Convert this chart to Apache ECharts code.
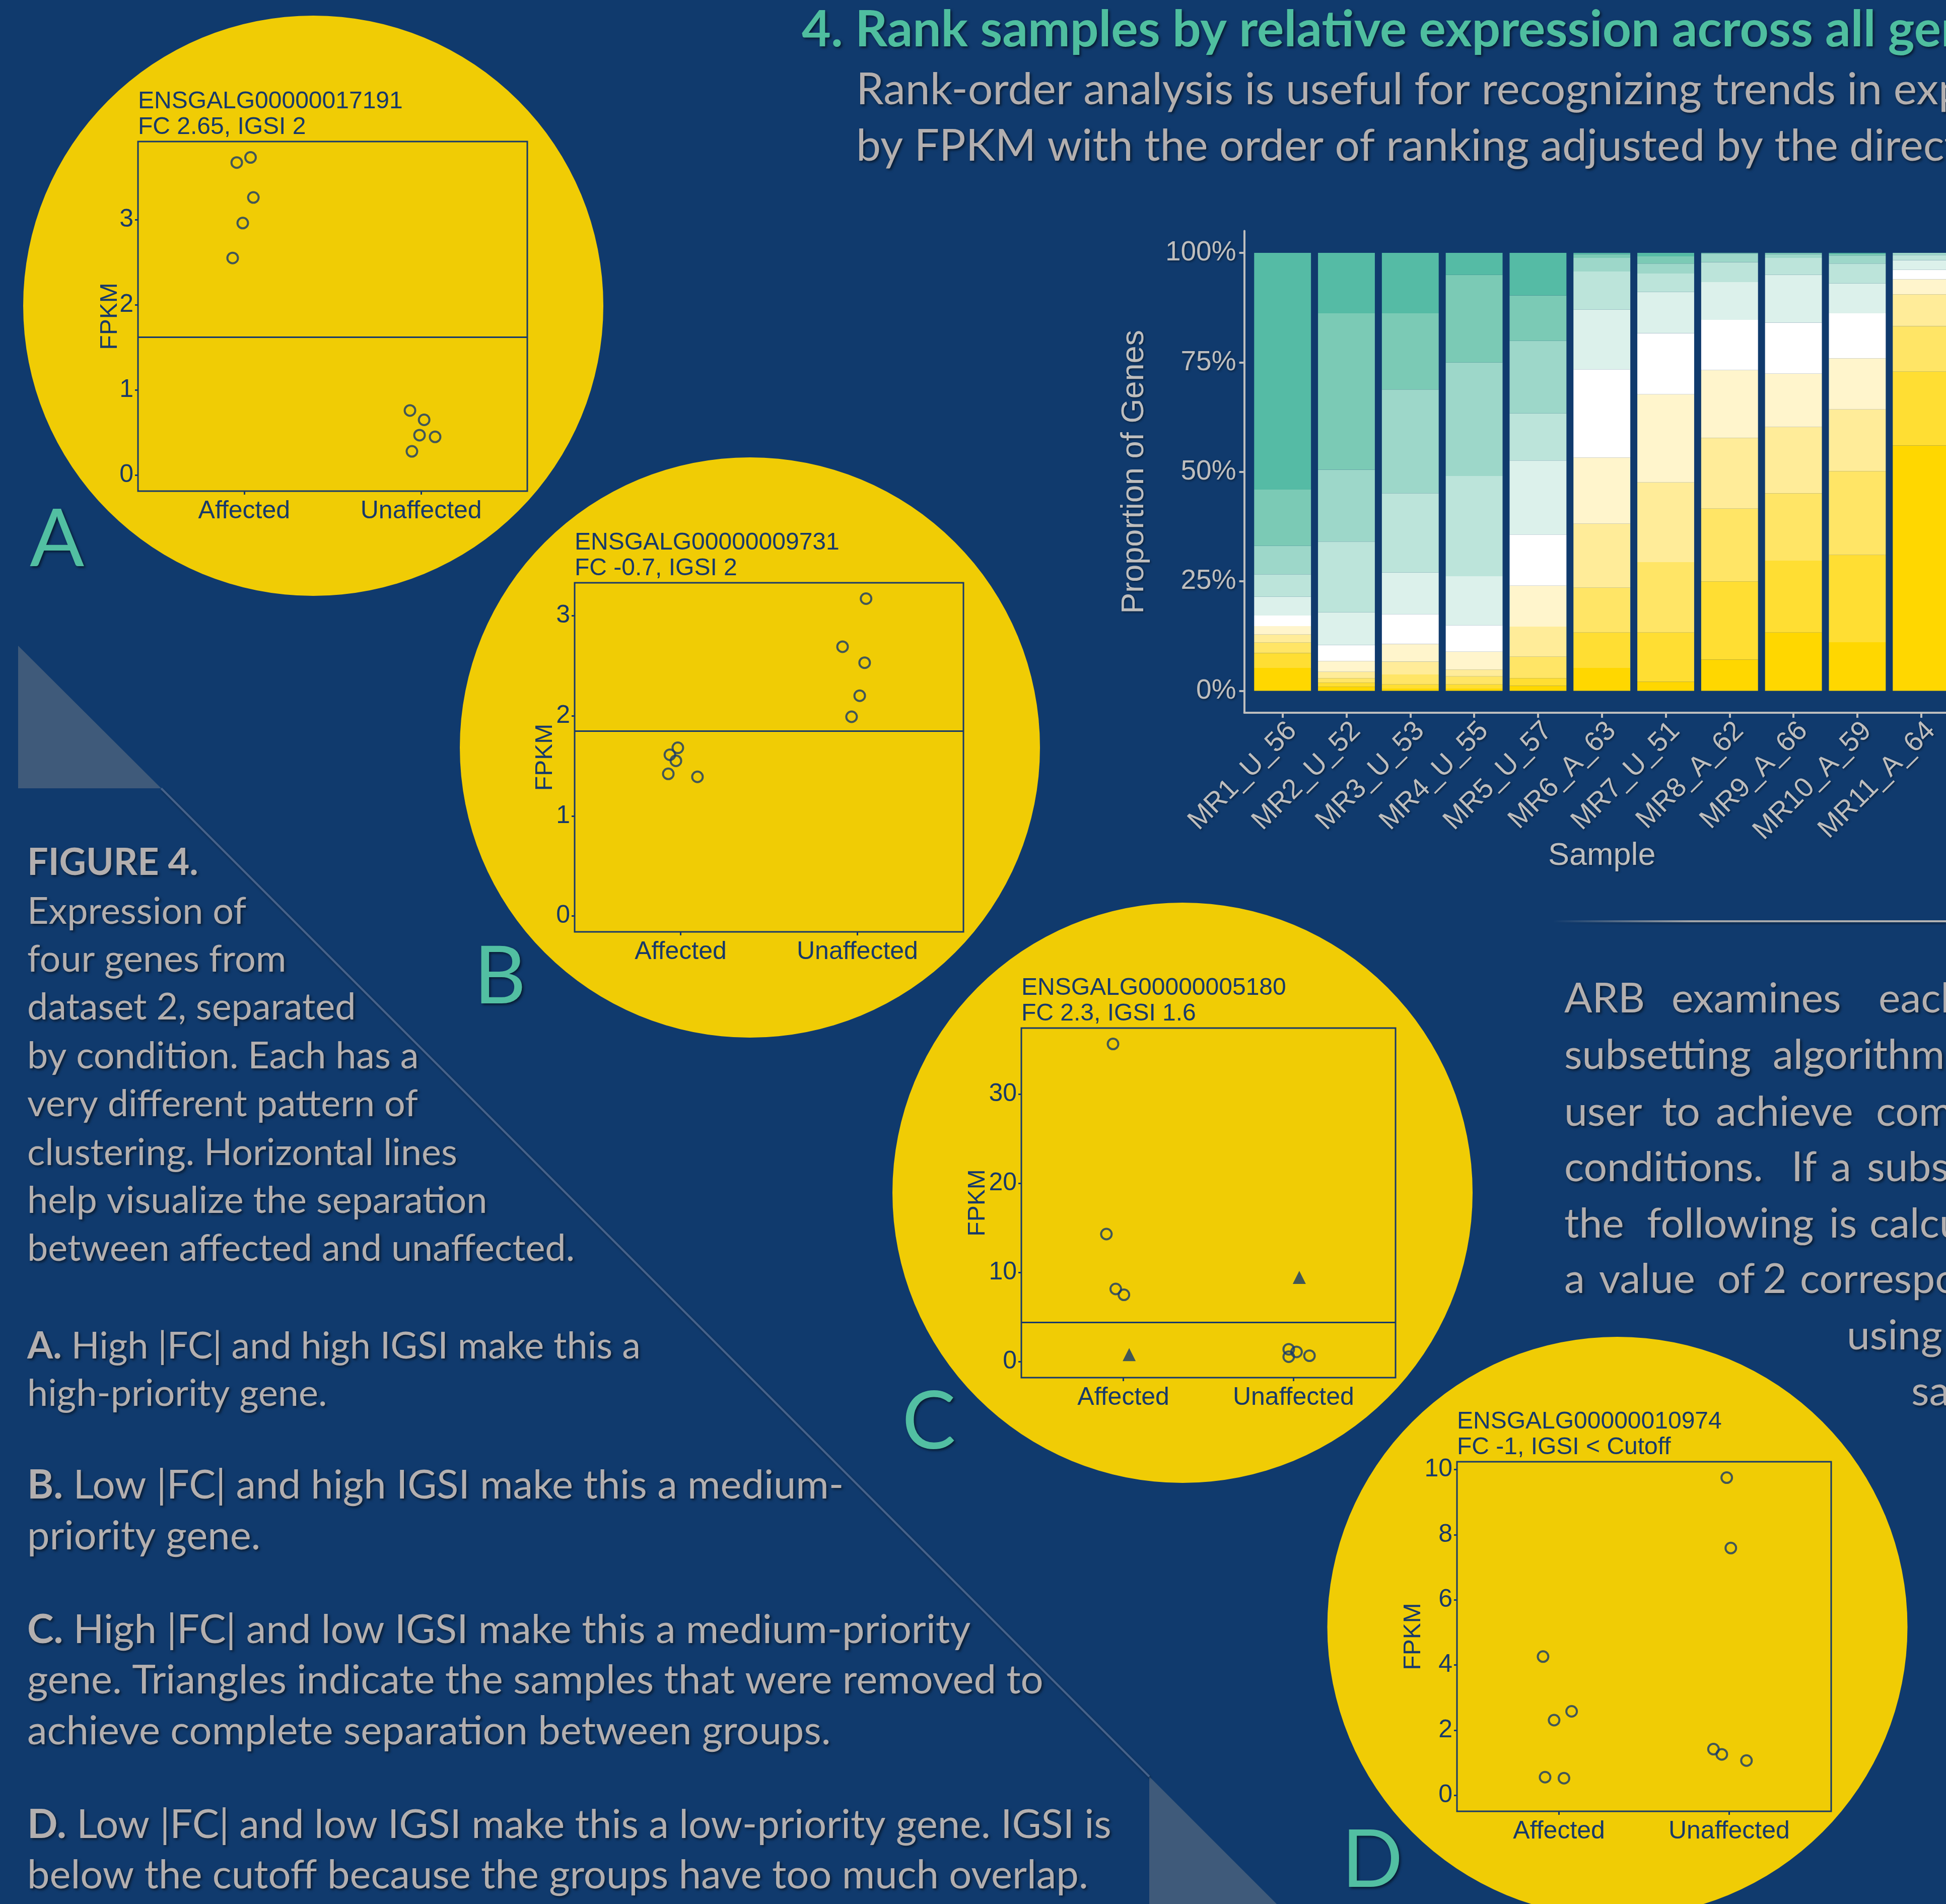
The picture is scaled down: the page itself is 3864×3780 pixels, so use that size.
<!DOCTYPE html>
<html>
<head>
<meta charset="utf-8">
<script src="https://cdn.jsdelivr.net/npm/echarts@6/dist/echarts.min.js"></script>
<style>
  html, body { margin: 0; padding: 0; background: #103A6D; }
  #poster { width: 3864px; height: 3780px; }
</style>
</head>
<body>
<div id="poster"></div>
<script>
// ---------- Gene panels (FPKM by condition) ----------
const groups = ['Affected', 'Unaffected'];
const geneIds = ['ENSGALG00000017191', 'ENSGALG00000009731', 'ENSGALG00000005180', 'ENSGALG00000010974'];
const geneStats = ['FC 2.65, IGSI 2', 'FC -0.7, IGSI 2', 'FC 2.3, IGSI 1.6', 'FC -1, IGSI < Cutoff'];

// A: ENSGALG00000017191 (x = jittered group position)
const aAffX = [0.958, 1.036, 1.052, 0.992, 0.935];
const aAffY = [3.67, 3.73, 3.26, 2.96, 2.55];
const aUnaX = [1.937, 2.017, 1.991, 2.079, 1.948];
const aUnaY = [0.76, 0.65, 0.47, 0.45, 0.28];
const aCut = 1.62;
const aTicks = [0, 1, 2, 3];

// B: ENSGALG00000009731
const bAffX = [0.984, 0.939, 0.973, 0.930, 1.095];
const bAffY = [1.68, 1.61, 1.55, 1.42, 1.39];
const bUnaX = [2.049, 1.916, 2.041, 2.013, 1.967];
const bUnaY = [3.17, 2.69, 2.53, 2.20, 1.99];
const bCut = 1.85;
const bTicks = [0, 1, 2, 3];

// C: ENSGALG00000005180 (triangles = removed samples)
const cAffX = [0.939, 0.900, 0.955, 1.003];
const cAffY = [35.6, 14.3, 8.15, 7.5];
const cUnaX = [1.972, 2.018, 1.972, 2.094];
const cUnaY = [1.40, 1.10, 0.56, 0.67];
const cRemovedX = [1.034, 2.034];
const cRemovedY = [0.8, 9.45];
const cCut = 4.4;
const cTicks = [0, 10, 20, 30];

// D: ENSGALG00000010974
const dAffX = [0.906, 0.971, 1.074, 0.918, 1.029];
const dAffY = [4.26, 2.31, 2.58, 0.56, 0.53];
const dUnaX = [1.986, 2.010, 1.908, 1.957, 2.102];
const dUnaY = [9.75, 7.59, 1.42, 1.26, 1.07];
const dTicks = [0, 2, 4, 6, 8, 10];

// ---------- Rank proportions per sample (% of genes), level 1 = top of bar ----------
const samples = ['MR1_U_56', 'MR2_U_52', 'MR3_U_53', 'MR4_U_55', 'MR5_U_57', 'MR6_A_63',
                 'MR7_U_51', 'MR8_A_62', 'MR9_A_66', 'MR10_A_59', 'MR11_A_64'];
const level01 = [54.04, 13.80, 13.80, 5.04, 9.71, 0.30, 0.80, 0.00, 0.00, 0.20, 0.00];
const level02 = [12.86, 35.70, 17.40, 19.99, 10.39, 0.84, 1.64, 0.17, 0.30, 0.42, 0.00];
const level03 = [6.49, 16.42, 23.69, 25.90, 16.55, 3.12, 2.27, 1.95, 0.84, 1.82, 0.50];
const level04 = [5.12, 16.16, 18.11, 22.91, 10.77, 8.70, 4.22, 4.54, 3.90, 4.54, 1.16];
const level05 = [4.29, 7.47, 9.47, 11.17, 16.88, 13.63, 9.41, 8.63, 10.90, 6.82, 2.21];
const level06 = [2.40, 3.63, 6.82, 6.03, 11.68, 20.12, 13.96, 11.49, 11.62, 10.25, 2.14];
const level07 = [1.95, 2.47, 4.02, 4.09, 9.35, 15.12, 20.12, 15.45, 12.20, 11.69, 3.44];
const level08 = [1.82, 1.43, 2.93, 1.56, 6.88, 14.61, 18.18, 16.16, 15.13, 14.08, 7.27];
const level09 = [2.40, 1.04, 2.27, 1.82, 4.87, 10.25, 16.09, 16.62, 15.38, 19.15, 10.39];
const level10 = [3.37, 0.91, 0.97, 0.97, 1.75, 8.05, 11.23, 17.85, 16.42, 19.93, 16.87];
const level11 = [5.26, 0.97, 0.52, 0.52, 1.17, 5.26, 2.08, 7.14, 13.31, 11.10, 56.02];
const pctTicks = [0, 25, 50, 75, 100];

// ---------- Styling ----------
const BG = '#103A6D';
const YELLOW = '#F0CC05';
const NAVY = '#17396A';
const TEAL = '#52BFA2';
const GREY = '#B3AFAF';
const AXGREY = '#BEBEBE';
const POSTER_FONT = 'Lato';
const PLOT_FONT = '"Liberation Sans"';
const levelColors = ['#55BBA5', '#7BCAB5', '#9DD7C9', '#BCE4DA', '#DCF1EB', '#FFFFFF',
                     '#FFF5CC', '#FFEC99', '#FFE566', '#FFDE33', '#FFD700'];
const BAR_HALF = 0.445;   // half bar width, in sample units

// canvas 'middle' offset of the baseline, per family
const MID = { Lato: 0.387, '"Liberation Sans"': 0.3465 };
const SHADOW = { textShadowColor: 'rgba(0,0,0,0.55)', textShadowBlur: 5, textShadowOffsetX: 3, textShadowOffsetY: 3 };

const mctx = document.createElement('canvas').getContext('2d');
function measure(str, size, weight, fam) {
  mctx.font = (weight || 'normal') + ' ' + size + 'px ' + fam;
  return mctx.measureText(str).width;
}
// font size that makes the given lines span their target widths
function fitSize(items, fam) {
  let m = 0, t = 0;
  items.forEach(it => {
    m += (it.pre ? measure(it.pre, 100, 'bold', fam) : 0) + measure(it.text, 100, it.weight || 'normal', fam);
    t += it.target;
  });
  return 100 * t / m;
}

function txt(x, base, size, str, opt) {
  opt = opt || {};
  const fam = opt.family || POSTER_FONT;
  const style = Object.assign({
    x: x, y: base - MID[fam] * size, text: str,
    fontFamily: fam, fontSize: size, fontWeight: opt.weight || 'normal',
    fill: opt.fill || GREY, align: opt.align || 'left', verticalAlign: 'middle'
  }, opt.shadow === false ? {} : SHADOW);
  if (opt.rich) style.rich = opt.rich;
  return { type: 'text', z: 50, silent: true, style: style };
}

const graphics = [];

// ---------- Background decoration ----------
const DECO = '#3F5A7A';
graphics.push({ type: 'polygon', z: -20, silent: true, shape: { points: [[36, 1282], [36, 1565], [320, 1565]] }, style: { fill: DECO } });
graphics.push({ type: 'polygon', z: -20, silent: true, shape: { points: [[2282, 3527], [2282, 3790], [2545, 3790]] }, style: { fill: DECO } });
graphics.push({ type: 'line', z: -20, silent: true, shape: { x1: 320, y1: 1565, x2: 2282, y2: 3527 },
  style: { stroke: '#46628A', lineWidth: 4, shadowColor: 'rgba(0,0,0,0.35)', shadowBlur: 4, shadowOffsetX: 2, shadowOffsetY: 3 } });
graphics.push({ type: 'line', z: -20, silent: true, shape: { x1: 3085, y1: 1829, x2: 3864, y2: 1829 },
  style: { lineWidth: 4, shadowColor: 'rgba(0,0,0,0.4)', shadowBlur: 4, shadowOffsetY: 3,
    stroke: new echarts.graphic.LinearGradient(0, 0, 1, 0, [
      { offset: 0, color: 'rgba(176,176,176,0)' }, { offset: 0.35, color: 'rgba(176,176,176,0.9)' }, { offset: 1, color: '#B4B4B4' }]) } });

// ---------- Yellow discs behind the gene panels ----------
[[622, 607], [1489, 1484], [2348, 2368], [3211.5, 3230]].forEach(c => {
  graphics.push({ type: 'circle', z: -10, silent: true, shape: { cx: c[0], cy: c[1], r: 576 }, style: { fill: YELLOW } });
});

// ---------- Header ----------
const headTitle = '4. Rank samples by relative expression across all genes';
const headLines = ['Rank-order analysis is useful for recognizing trends in expression',
                   'by FPKM with the order of ranking adjusted by the direction'];
const titleSize = fitSize([{ text: '4. Rank samples by relative expression across all ', weight: 'bold', target: 2157 }], POSTER_FONT);
const headSize = fitSize([{ text: 'Rank-order analysis is useful for recognizing trends in ', target: 2060 }], POSTER_FONT);
graphics.push(txt(1592, 98, titleSize, headTitle, { weight: 'bold', fill: '#4FBE9F' }));
graphics.push(txt(1700, 213, headSize, headLines[0]));
graphics.push(txt(1700, 325, headSize, headLines[1]));

// ---------- Figure caption ----------
const capA = [
  { pre: 'FIGURE 4.', text: '', base: 1742, target: 321 },
  { text: 'Expression of', base: 1839, target: 431 },
  { text: 'four genes from', base: 1934, target: 513 },
  { text: 'dataset 2, separated', base: 2029, target: 656 },
  { text: 'by condition. Each has a', base: 2126, target: 776 },
  { text: 'very different pattern of', base: 2221, target: 776 },
  { text: 'clustering. Horizontal lines', base: 2318, target: 853 },
  { text: 'help visualize the separation', base: 2413, target: 917 },
  { text: 'between affected and unaffected.', base: 2508, target: 1092 },
  { pre: 'A.', text: ' High |FC| and high IGSI make this a', base: 2702, target: 1232 },
  { text: 'high-priority gene.', base: 2796, target: 597 }
];
const capB = [
  { pre: 'B.', text: ' Low |FC| and high IGSI make this a medium-', base: 2980, target: 1634 },
  { text: 'priority gene.', base: 3081, target: 463 },
  { pre: 'C.', text: ' High |FC| and low IGSI make this a medium-priority', base: 3267, target: 1880 },
  { text: 'gene. Triangles indicate the samples that were removed to', base: 3367, target: 2023 },
  { text: 'achieve complete separation between groups.', base: 3468, target: 1592 },
  { pre: 'D.', text: ' Low |FC| and low IGSI make this a low-priority gene. IGSI is', base: 3654, target: 2144 },
  { text: 'below the cutoff because the groups have too much overlap.', base: 3754, target: 2097 }
];
[capA, capB].forEach(block => {
  const size = fitSize(block, POSTER_FONT);
  block.forEach(line => {
    if (line.pre) {
      graphics.push(txt(54, line.base, size, '{b|' + line.pre + '}' + line.text,
        { rich: { b: { fontWeight: 'bold', fontSize: size, fontFamily: POSTER_FONT, fill: GREY } } }));
    } else {
      graphics.push(txt(54, line.base, size, line.text));
    }
  });
});

// ---------- ARB paragraph (justified, right edge runs off the page) ----------
const arbWords = [
  [2015, [['ARB', 3106], ['examines', 3319], ['each', 3730]]],
  [2127, [['subsetting', 3106], ['algorithm', 3520]]],
  [2240, [['user', 3106], ['to', 3300], ['achieve', 3407], ['complete', 3725]]],
  [2350, [['conditions.', 3106], ['If', 3557], ['a', 3635], ['subset', 3707]]],
  [2462, [['the', 3106], ['following', 3270], ['is', 3632], ['calculated', 3712]]],
  [2572, [['a', 3106], ['value', 3175], ['of', 3410], ['2', 3500], ['corresponds', 3574]]],
  [2684, [['using', 3667]]],
  [2795, [['samples', 3795]]]
];
const arbSize = fitSize([{ text: 'examines', target: 348 }, { text: 'ARB', target: 149 }], POSTER_FONT);
arbWords.forEach(row => row[1].forEach(wd => graphics.push(txt(wd[1], row[0], arbSize, wd[0]))));

// ---------- Panel letters ----------
[['A', 59, 1134], ['B', 941, 2002], ['C', 1791, 2886], ['D', 2664, 3756]].forEach(l => {
  graphics.push(txt(l[1], l[2], 160, l[0], { fill: TEAL }));
});

// ---------- Gene panel charts ----------
const panels = [
  { box: [274, 281, 773, 694], affX: aAffX, affY: aAffY, unaX: aUnaX, unaY: aUnaY, cut: aCut, ticks: aTicks, nameGap: 31 },
  { box: [1141, 1157, 772, 693], affX: bAffX, affY: bAffY, unaX: bUnaX, unaY: bUnaY, cut: bCut, ticks: bTicks, nameGap: 34 },
  { box: [2028, 2041, 743, 694], affX: cAffX, affY: cAffY, unaX: cUnaX, unaY: cUnaY, cut: cCut, ticks: cTicks, nameGap: 62,
    remX: cRemovedX, remY: cRemovedY },
  { box: [2893, 2902, 743, 694], affX: dAffX, affY: dAffY, unaX: dUnaX, unaY: dUnaY, cut: null, ticks: dTicks, nameGap: 62 }
];

const grids = [], xAxes = [], yAxes = [], series = [];
const zip = (xs, ys) => xs.map((x, i) => [x, ys[i]]);
const plotText = { color: NAVY, fontFamily: PLOT_FONT, fontSize: 50 };

panels.forEach((p, i) => {
  const [left, top, width, height] = p.box;
  grids.push({ left, top, width, height, show: true, backgroundColor: 'rgba(0,0,0,0)',
    borderColor: NAVY, borderWidth: 3, outerBoundsMode: 'none', containLabel: false });
  xAxes.push({
    gridIndex: i, type: 'value', min: 0.4, max: 2.6,
    axisLine: { show: false, onZero: false }, splitLine: { show: false },
    axisTick: { show: true, customValues: [1, 2], length: 7, lineStyle: { color: NAVY, width: 3 } },
    axisLabel: Object.assign({ customValues: [1, 2], margin: 15, formatter: v => groups[Math.round(v) - 1] }, plotText)
  });
  const all = p.affY.concat(p.unaY, p.remY || []);
  const top0 = Math.max.apply(null, all);
  yAxes.push({
    gridIndex: i, type: 'value', min: -0.05 * top0, max: 1.05 * top0,
    axisLine: { show: false, onZero: false }, splitLine: { show: false },
    axisTick: { show: true, customValues: p.ticks, length: 6, lineStyle: { color: NAVY, width: 3 } },
    axisLabel: Object.assign({ customValues: p.ticks, margin: 9 }, plotText),
    name: 'FPKM', nameLocation: 'middle', nameRotate: 90, nameGap: p.nameGap, nameMoveOverlap: false,
    nameTextStyle: { color: NAVY, fontFamily: PLOT_FONT, fontSize: 48 }
  });
  const ring = { color: 'rgba(0,0,0,0)', borderColor: NAVY, borderWidth: 4 };
  const aff = { type: 'scatter', xAxisIndex: i, yAxisIndex: i, symbol: 'circle', symbolSize: 21,
    itemStyle: ring, data: zip(p.affX, p.affY), silent: true };
  if (p.cut !== null) {
    aff.markLine = { silent: true, symbol: 'none', label: { show: false },
      lineStyle: { color: NAVY, width: 3, type: 'solid' }, data: [{ yAxis: p.cut }] };
  }
  series.push(aff);
  series.push({ type: 'scatter', xAxisIndex: i, yAxisIndex: i, symbol: 'circle', symbolSize: 21,
    itemStyle: ring, data: zip(p.unaX, p.unaY), silent: true });
  if (p.remX) {
    series.push({ type: 'scatter', xAxisIndex: i, yAxisIndex: i, symbol: 'triangle', symbolSize: 26,
      itemStyle: { color: NAVY }, data: zip(p.remX, p.remY), silent: true });
  }
  // panel title
  graphics.push(txt(left, top - 63, 48, geneIds[i], { family: PLOT_FONT, fill: NAVY, shadow: false }));
  graphics.push(txt(left, top - 12, 48, geneStats[i], { family: PLOT_FONT, fill: NAVY, shadow: false }));
});

// ---------- Rank-order stacked bars ----------
const bi = panels.length;
grids.push({ left: 2470.6, top: 458.5, width: 1420.2, height: 956.6, show: false, outerBoundsMode: 'none', containLabel: false });
const sampleIdx = samples.map((s, i) => i + 1);
const axText = { color: AXGREY, fontFamily: PLOT_FONT, textShadowColor: 'rgba(0,0,0,0.45)', textShadowBlur: 4,
  textShadowOffsetX: 2, textShadowOffsetY: 2 };
xAxes.push({
  gridIndex: bi, type: 'value', min: 0.4, max: 11.6,
  axisLine: { show: true, onZero: false, lineStyle: { color: AXGREY, width: 4 } },
  splitLine: { show: false },
  axisTick: { show: true, customValues: sampleIdx, length: 10, lineStyle: { color: AXGREY, width: 4 } },
  axisLabel: Object.assign({ customValues: sampleIdx, rotate: 45, margin: 8, verticalAlign: 'top', fontSize: 55,
    formatter: v => samples[Math.round(v) - 1] }, axText),
  name: 'Sample', nameLocation: 'middle', nameGap: 253, nameMoveOverlap: false,
  nameTextStyle: Object.assign({ fontSize: 63 }, axText)
});
yAxes.push({
  gridIndex: bi, type: 'value', min: -5, max: 105,
  axisLine: { show: true, onZero: false, lineStyle: { color: AXGREY, width: 4 } },
  splitLine: { show: false },
  axisTick: { show: true, customValues: pctTicks, length: 10, lineStyle: { color: AXGREY, width: 4 } },
  axisLabel: Object.assign({ customValues: pctTicks, margin: 16, fontSize: 55, formatter: v => v + '%' }, axText),
  name: 'Proportion of Genes', nameLocation: 'middle', nameRotate: 90, nameGap: 186, nameMoveOverlap: false,
  nameTextStyle: Object.assign({ fontSize: 63 }, axText)
});
const levels = [level01, level02, level03, level04, level05, level06, level07, level08, level09, level10, level11];
// stack from the deepest yellow level (bottom) up to the dark teal level (top)
const stackBase = samples.map(() => 0);
for (let k = levels.length - 1; k >= 0; k--) {
  const data = levels[k].map((v, i) => {
    const b = stackBase[i];
    stackBase[i] += v;
    return [sampleIdx[i], b, b + v];
  });
  const fill = levelColors[k];
  series.push({
    type: 'custom', name: String(k + 1), xAxisIndex: bi, yAxisIndex: bi, silent: true,
    encode: { x: 0, y: [1, 2] }, data: data,
    renderItem: (params, api) => {
      const lo = api.coord([api.value(0) - BAR_HALF, api.value(1)]);
      const hi = api.coord([api.value(0) + BAR_HALF, api.value(2)]);
      return { type: 'rect', shape: { x: lo[0], y: hi[1], width: hi[0] - lo[0], height: lo[1] - hi[1] },
        style: { fill: fill } };
    }
  });
}

const chart = echarts.init(document.getElementById('poster'), null, { renderer: 'canvas', width: 3864, height: 3780 });
chart.setOption({
  backgroundColor: BG,
  animation: false,
  textStyle: { fontFamily: PLOT_FONT },
  grid: grids, xAxis: xAxes, yAxis: yAxes, series: series,
  graphic: { elements: graphics }
});
</script>
</body>
</html>
